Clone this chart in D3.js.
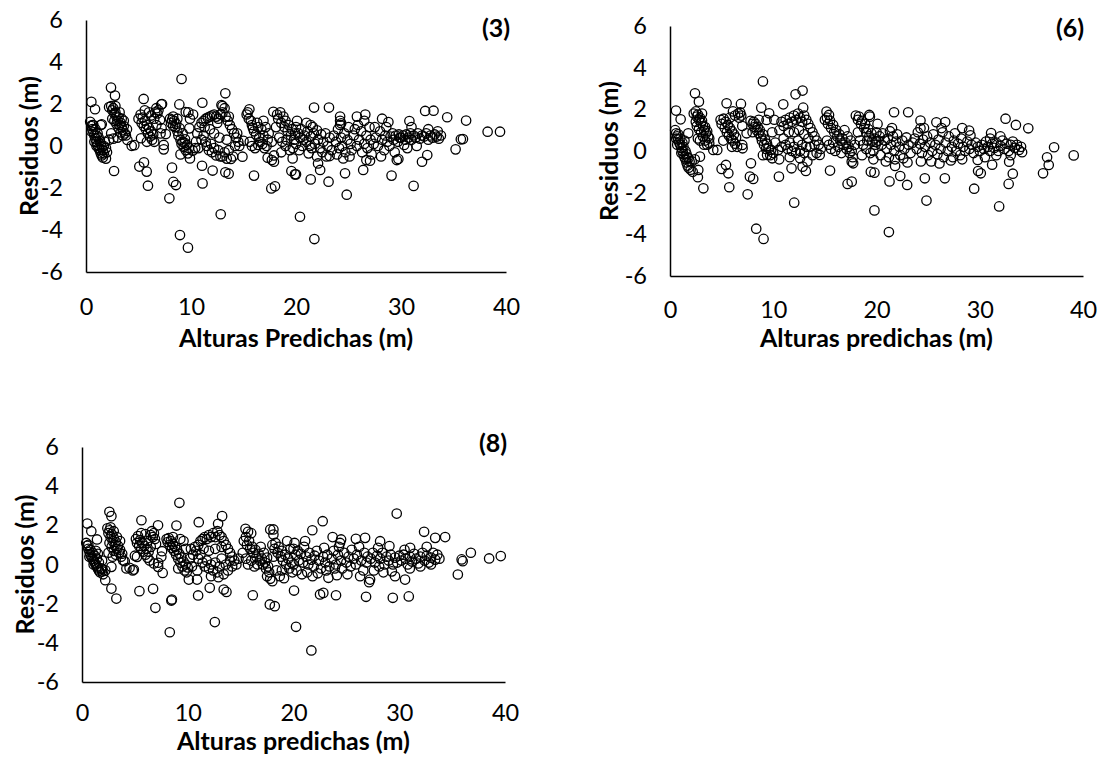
<!DOCTYPE html>
<html>
<head>
<meta charset="utf-8">
<script src="https://cdn.jsdelivr.net/npm/d3@7"></script>
<style>
  html, body { margin: 0; padding: 0; background: #fff; }
  svg text { font-family: Lato, "Open Sans", sans-serif; fill: #000; }
</style>
</head>
<body>
<svg id="chart" width="1102" height="757"></svg>
<script>
// Residuals versus predicted heights, three model fits.
const xTicks = [0, 10, 20, 30, 40];
const yTicks = [-6, -4, -2, 0, 2, 4, 6];
const panelLabels = ["(3)", "(6)", "(8)"];
const xTitles = ["Alturas Predichas (m)", "Alturas predichas (m)", "Alturas predichas (m)"];
const yTitle = "Residuos (m)";

// Model (3): [predicted height, residual]
const model3 = [
  [9.1,3.19],[8.95,-4.24],[9.71,-4.84],[12.83,-3.25],[7.94,-2.49],[2.67,-1.19],[5.08,-0.98],[5.52,-0.78],[5.78,-1.22],
  [5.9,-1.89],[8.19,-1.03],[8.32,-1.71],[8.57,-1.86],[11.1,-1.78],[11.05,-0.94],[12.06,-1.17],[13.27,-1.25],[13.59,-1.32],
  [16.0,-1.41],[17.65,-2.02],[18.0,-1.92],[19.56,-1.19],[19.9,-1.35],[2.38,2.78],[2.76,2.40],[0.51,2.10],[0.86,1.75],
  [5.49,2.24],[7.17,1.98],[8.89,1.98],[11.08,2.06],[13.27,2.51],[12.9,1.95],[15.56,1.75],
  [0.4,1.15],[0.5,0.95],[0.6,0.8],[0.7,0.65],[0.8,0.5],[0.9,0.35],[1.0,0.2],[1.1,0.05],[1.2,-0.1],[1.3,-0.2],[1.4,-0.35],
  [1.5,-0.45],[1.6,-0.55],[1.9,-0.6],[2.0,-0.3],[0.5,0.7],[0.7,1.0],[0.9,0.8],[1.1,0.6],[1.2,0.4],[1.3,0.25],[1.4,0.1],
  [1.5,-0.05],[1.6,-0.2],[1.7,-0.35],[0.8,0.2],[1.0,0.0],[1.4,1.0],[1.8,0.2],[2.2,0.3],[0.6,1.0],[1.0,0.5],[1.7,0.0],[1.9,-0.1],[1.5,1.03],
  [2.2,1.85],[2.4,1.9],[2.5,1.7],[2.6,1.8],[2.7,1.55],[2.8,1.6],[2.9,1.4],[3.0,1.2],[3.1,1.35],[3.2,1.0],[3.3,1.1],[3.4,0.9],
  [3.5,0.75],[3.6,0.95],[3.7,0.6],[3.8,0.5],[2.5,1.3],[2.7,1.2],[2.9,1.05],[3.1,0.85],[3.3,0.65],[3.5,0.5],[3.0,0.4],[2.6,0.35],
  [3.2,1.6],[2.8,1.9],[3.4,1.3],[3.6,1.2],[3.9,0.8],[3.94,0.29],[4.35,0.01],[4.6,0.04],[2.4,0.6],
  [5.0,1.3],[5.2,1.5],[5.3,1.1],[5.4,1.35],[5.5,0.95],[5.6,1.2],[5.7,0.8],[5.8,1.0],[5.9,0.6],[6.0,0.85],[6.1,0.45],[6.2,0.7],
  [6.3,0.3],[6.4,0.55],[6.5,0.2],[6.6,1.6],[6.7,1.8],[6.8,1.55],[6.9,1.7],[6.0,1.6],[6.2,1.45],[5.6,1.7],[7.05,1.24],[7.2,0.85],
  [7.4,0.05],[7.4,-0.16],[7.6,0.57],[7.1,0.6],[5.24,0.37],[6.5,1.3],[6.7,1.0],[5.8,0.2],[7.24,2.0],
  [8.0,1.3],[8.1,1.1],[8.2,1.25],[8.3,0.95],[8.4,1.2],[8.5,0.9],[8.6,1.05],[8.7,0.7],[8.8,0.5],[8.9,0.85],[9.0,0.3],[9.1,0.1],
  [9.2,0.2],[9.3,-0.05],[9.4,0.15],[9.5,-0.2],[9.6,0.05],[9.7,-0.35],[9.8,-0.1],[9.9,-0.59],[10.16,-0.22],[9.2,0.6],[9.43,0.32],
  [8.7,1.3],[9.5,1.62],[9.75,1.6],[9.84,0.84],[9.9,1.3],[10.48,0.21],[10.4,-0.1],[8.3,1.4],[9.0,-0.4],[10.2,1.5],
  [10.6,0.6],[10.8,0.9],[11.0,1.1],[11.2,1.2],[11.4,1.3],[11.6,1.35],[11.8,1.4],[12.0,1.45],[12.2,1.5],[12.4,1.4],[12.6,1.3],
  [12.8,1.5],[13.0,1.6],[13.2,1.8],[13.0,1.9],[13.3,1.4],[13.5,1.2],[13.7,1.0],[13.9,0.8],[14.1,0.6],[14.3,0.4],[14.5,0.2],
  [11.0,0.3],[11.2,0.5],[11.4,0.2],[11.5,0.0],[11.7,-0.2],[11.9,0.1],[12.0,-0.3],[12.2,-0.1],[12.4,-0.45],[12.6,-0.2],[12.8,-0.5],
  [13.0,-0.5],[13.2,-0.3],[13.4,-0.6],[13.6,-0.2],[13.8,-0.62],[14.0,-0.5],[14.2,0.0],[14.4,0.6],[13.4,0.3],[12.7,0.4],[11.8,0.8],
  [12.2,0.6],[11.3,0.9],[14.6,0.0],[14.9,-0.51],[15.0,0.25],[12.5,1.1],[13.6,1.4],[10.7,-0.1],
  [15.3,1.5],[15.5,1.3],[15.7,1.2],[15.8,1.0],[15.9,0.85],[16.0,0.7],[16.2,0.55],[16.3,1.1],[16.4,0.9],[16.5,0.4],[16.6,0.2],
  [16.8,0.1],[16.9,0.5],[17.0,-0.1],[17.2,0.0],[17.3,0.3],[17.3,-0.56],[17.7,-0.67],[17.9,-0.75],[15.6,0.2],[15.8,0.0],[16.1,-0.1],
  [16.4,0.05],[15.4,1.6],[16.7,0.8],[16.9,1.2],[17.1,0.9],[17.4,0.6],[17.7,0.2],[17.9,-0.45],
  [17.84,1.63],[18.2,1.5],[18.3,1.3],[18.5,1.6],[18.6,1.1],[18.8,1.4],[18.9,0.9],[19.0,1.2],[19.2,0.7],[19.3,1.0],[19.5,0.5],
  [19.6,0.8],[19.8,0.3],[19.9,0.6],[20.0,0.1],[18.4,0.4],[18.7,0.2],[19.0,0.0],[19.4,-0.2],[19.7,-0.1],[18.1,0.9],[19.1,0.3],
  [19.68,-0.59],[18.6,-0.3],
  [21.72,1.83],[23.14,1.83],[24.2,1.4],[24.2,1.2],[24.3,1.08],[20.0,-1.35],[21.4,-1.59],[22.1,-0.83],[22.3,-1.14],[23.1,-1.7],
  [20.38,-3.37],[21.75,-4.43],[24.67,-1.3],[24.83,-2.32],[26.4,-1.14],[29.1,-1.41],[31.2,-1.9],[32.0,-0.75],[32.5,-0.43],
  [29.6,-0.67],[29.75,-0.62],[35.2,-0.16],[35.7,0.32],[35.9,0.33],[38.25,0.68],[39.43,0.68],[36.2,1.21],[34.4,1.37],
  [32.3,1.67],[33.1,1.68],[30.8,1.19],[25.8,1.4],[26.6,1.5],[28.2,1.3],[28.8,1.14],[27.05,-0.7],[26.7,-0.67],[24.5,-0.59],
  [22.9,-0.5],[23.2,-0.48],
  [20.0,0.9],[20.2,0.6],[20.4,0.4],[20.5,0.8],[20.7,0.3],[20.8,0.5],[21.0,0.2],[21.1,0.7],[21.3,0.0],[21.4,0.45],[21.6,0.9],
  [21.7,0.6],[21.8,0.1],[22.0,0.75],[22.1,0.3],[22.3,-0.1],[22.4,0.55],[22.6,0.2],[22.8,0.6],[23.0,0.0],[23.2,0.4],[23.4,-0.2],
  [20.3,-0.2],[20.6,0.0],[21.2,-0.35],[21.5,-0.1],[22.0,-0.5],[22.5,-0.3],[20.1,1.2],[21.0,1.1],[21.4,1.0],
  [23.6,0.5],[23.8,0.2],[24.0,0.8],[24.1,-0.1],[24.3,0.4],[24.4,0.0],[24.6,0.6],[24.7,-0.3],[24.9,0.3],[25.0,0.9],[25.2,0.1],
  [25.3,-0.2],[25.5,0.5],[25.6,0.8],[25.8,0.0],[26.0,0.3],[26.2,0.7],[26.3,-0.3],[26.5,0.1],[26.7,0.5],[26.8,-0.1],[27.0,0.9],
  [27.1,0.3],[24.2,1.0],[25.9,1.0],[26.5,1.2],[27.2,-0.4],[25.1,-0.5],[23.9,-0.4],
  [27.4,0.1],[27.6,0.4],[27.8,0.0],[28.0,0.7],[28.2,0.3],[28.4,-0.2],[28.5,0.5],[28.7,0.2],[28.9,0.0],[29.0,0.45],[29.2,0.6],
  [29.3,0.3],[29.5,0.5],[29.7,0.2],[29.9,0.4],[27.5,0.9],[28.1,-0.5],[29.4,-0.3],[28.6,0.9],[29.8,0.55],
  [30.0,0.4],[30.2,0.5],[30.4,0.3],[30.5,0.55],[30.7,0.4],[30.9,0.6],[31.0,0.3],[31.2,0.5],[31.4,0.4],[31.6,0.6],[31.8,0.35],
  [32.0,0.5],[32.2,0.45],[32.4,0.6],[32.6,0.3],[32.8,0.5],[33.0,0.4],[33.2,0.55],[33.4,0.45],[33.6,0.35],[33.8,0.5],[31.0,0.9],
  [32.6,0.8],[30.6,-0.1],[31.5,0.0],[33.5,0.7],[30.3,0.05]
];

// Model (6): [predicted height, residual]
const model6 = [
  [9.0,3.34],[8.35,-3.73],[9.06,-4.22],[12.03,-2.48],[19.8,-2.85],[3.23,-1.79],[5.74,-1.74],[7.52,-2.08],[5.0,-0.86],
  [5.42,-0.67],[5.65,-1.07],[7.84,-0.59],[7.74,-1.23],[8.06,-1.34],[10.55,-1.23],[10.58,-0.4],[11.77,-0.83],[12.84,-0.75],
  [13.16,-0.96],[15.5,-0.94],[17.2,-1.58],[17.6,-1.47],[19.45,-1.0],[19.8,-1.04],[2.7,-1.26],[2.42,2.77],[2.8,2.37],
  [0.58,1.94],[1.03,1.52],[5.48,2.29],[6.87,2.26],[8.84,2.08],[10.97,2.24],[12.16,2.72],[12.84,2.9],[12.9,2.08],
  [0.5,1.0],[0.6,0.85],[0.7,0.7],[0.8,0.55],[0.9,0.4],[1.0,0.3],[1.1,0.15],[1.2,0.0],[1.3,-0.15],[1.4,-0.3],[1.5,-0.4],
  [1.6,-0.55],[1.7,-0.7],[1.8,-0.8],[1.9,-0.5],[2.0,-0.9],[2.2,-1.0],[0.6,0.6],[0.8,0.8],[1.0,0.6],[1.2,0.4],[1.3,0.2],
  [1.5,0.0],[1.6,-0.15],[1.7,-0.3],[1.4,0.5],[1.1,-0.1],[1.8,-0.35],[2.1,-0.5],[0.7,0.3],[2.4,-0.4],[2.9,-0.27],[1.77,0.85],
  [2.74,-0.91],[2.7,0.6],
  [2.3,1.8],[2.5,1.9],[2.6,1.65],[2.7,1.75],[2.8,1.5],[2.9,1.6],[3.0,1.35],[3.1,1.45],[3.2,1.2],[3.3,1.0],[3.4,1.15],[3.5,0.85],
  [3.6,0.95],[3.7,0.7],[3.8,0.6],[2.6,1.2],[2.8,1.05],[3.0,0.9],[3.2,0.7],[3.4,0.5],[3.6,0.3],[2.5,1.4],[3.1,1.8],[3.8,0.37],
  [4.19,0.05],[4.58,0.05],[3.3,0.3],[2.9,0.5],
  [4.9,1.5],[5.0,1.3],[5.2,1.55],[5.3,1.1],[5.4,1.4],[5.5,0.9],[5.6,1.25],[5.7,0.75],[5.8,1.1],[5.9,0.6],[6.0,0.95],[6.1,0.5],
  [6.2,0.8],[6.3,0.35],[6.4,0.65],[6.5,0.2],[6.6,1.8],[6.7,1.6],[6.8,1.85],[6.9,1.7],[6.1,1.9],[6.3,1.7],[5.8,1.6],[7.0,1.2],
  [7.0,0.29],[7.03,0.13],[7.42,0.85],[5.16,0.5],[6.0,0.2],
  [7.8,1.45],[8.0,1.3],[8.1,1.4],[8.2,1.15],[8.3,1.3],[8.4,1.0],[8.5,1.15],[8.6,0.85],[8.7,1.0],[8.8,0.7],[8.9,0.5],[9.0,0.8],
  [9.1,0.3],[9.2,0.55],[9.3,0.1],[9.4,0.35],[9.4,-0.19],[9.55,0.13],[9.7,-0.2],[9.8,0.05],[9.9,-0.35],[10.0,-0.1],[9.35,1.49],
  [9.6,1.81],[9.9,0.9],[10.2,0.4],[10.48,0.05],[8.6,1.5],[9.0,-0.2],[10.1,1.5],[8.0,0.9],
  [10.6,1.0],[10.8,1.4],[11.0,1.2],[11.2,1.5],[11.4,1.3],[11.6,1.6],[11.8,1.4],[12.0,1.7],[12.2,1.5],[12.4,1.8],[12.6,1.6],
  [12.8,1.4],[13.0,1.7],[13.2,1.5],[13.4,1.3],[13.6,1.1],[13.8,0.9],[14.0,0.7],[14.2,0.5],[14.4,0.3],[11.0,0.6],[11.2,0.3],
  [11.4,0.1],[11.6,0.4],[11.8,0.0],[12.0,0.2],[12.2,-0.1],[12.4,0.5],[12.6,0.0],[12.8,0.3],[13.0,-0.1],[13.2,0.2],[13.4,0.6],
  [13.55,0.2],[13.8,-0.2],[14.0,0.3],[14.2,-0.1],[14.5,-0.19],[12.0,0.9],[12.5,1.0],[13.0,0.8],[11.5,0.9],[10.8,0.2],[14.6,0.1],
  [13.3,-0.5],[12.6,-0.35],[11.6,-0.3],
  [15.16,1.89],[15.4,1.73],[15.0,1.5],[15.2,1.6],[15.3,1.3],[15.5,1.45],[15.6,1.1],[15.8,1.25],[15.9,0.9],[16.1,1.0],[16.2,0.7],
  [16.4,0.8],[16.5,0.5],[16.7,0.6],[16.8,0.3],[17.0,0.4],[17.1,0.1],[17.3,0.2],[17.4,-0.1],[17.6,0.0],[17.7,-0.3],[15.4,0.3],
  [15.6,0.1],[15.8,0.4],[16.0,0.0],[16.3,0.2],[16.6,-0.1],[15.2,0.5],[16.9,1.0],[17.2,0.7],[17.5,0.5],[17.6,-0.51],[17.74,-0.59],
  [17.9,0.3],
  [18.0,1.7],[18.2,1.5],[18.3,1.65],[18.5,1.3],[18.6,1.45],[18.8,1.1],[18.9,1.3],[19.0,0.9],[19.2,1.05],[19.3,0.7],[19.5,0.85],
  [19.6,0.5],[19.8,0.6],[19.9,0.3],[20.0,0.45],[18.4,0.5],[18.7,0.3],[19.0,0.1],[19.4,-0.1],[19.7,0.0],[18.2,0.9],[19.1,0.5],
  [18.6,-0.2],[19.3,1.73],[19.36,1.65],
  [21.2,-3.89],[24.84,-2.38],[31.88,-2.66],[29.46,-1.81],[21.26,-1.46],[22.97,-1.63],[24.68,-1.31],[26.62,-1.31],[29.84,-0.96],
  [30.1,-1.07],[32.8,-1.58],[33.2,-1.09],[36.13,-1.07],[36.68,-0.67],[36.52,-0.3],[37.2,0.18],[39.1,-0.21],[21.7,1.86],
  [23.07,1.86],[25.8,1.38],[26.65,1.39],[28.3,1.1],[28.97,0.98],[31.1,0.86],[32.5,1.55],[33.5,1.25],[34.7,1.09],[24.26,1.46],
  [24.26,1.09],[22.3,-1.2],[21.8,-0.72],[31.2,-0.66],[29.8,-0.43],[32.85,-0.51],[34.1,-0.06],
  [20.0,0.9],[20.2,0.5],[20.3,0.7],[20.5,0.3],[20.6,0.85],[20.8,0.5],[21.0,0.1],[21.1,0.6],[21.3,0.95],[21.4,0.3],[21.6,0.7],
  [21.7,0.0],[21.9,0.45],[22.0,0.8],[22.2,0.2],[22.3,-0.2],[22.5,0.5],[22.7,0.1],[22.9,0.65],[23.1,0.3],[23.3,-0.1],[23.5,0.4],
  [20.4,-0.2],[20.9,-0.5],[21.2,-0.3],[21.8,-0.4],[22.6,-0.35],[23.0,-0.55],[20.1,1.3],[21.5,1.1],[19.7,-0.4],
  [23.7,0.6],[23.9,0.1],[24.0,0.9],[24.2,0.35],[24.4,-0.1],[24.5,0.55],[24.7,0.2],[24.9,0.7],[25.0,-0.2],[25.2,0.4],[25.4,0.0],
  [25.5,0.8],[25.7,0.3],[25.9,-0.15],[26.0,0.55],[26.2,0.1],[26.4,0.9],[26.5,-0.3],[26.7,0.4],[26.9,0.0],[27.0,0.7],[24.3,-0.5],
  [25.3,-0.5],[26.1,-0.6],[27.2,-0.45],[24.6,1.1],[26.3,1.1],
  [27.3,0.2],[27.5,0.5],[27.7,0.0],[27.9,0.35],[28.1,-0.2],[28.2,0.6],[28.4,0.2],[28.6,0.0],[28.8,0.45],[29.0,0.1],[29.2,0.3],
  [29.4,-0.1],[29.6,0.4],[29.8,0.2],[30.0,0.0],[27.6,0.85],[28.3,-0.4],[29.1,0.75],[27.4,-0.3],
  [30.2,0.3],[30.4,0.1],[30.6,0.45],[30.8,0.2],[31.0,0.0],[31.2,0.35],[31.4,0.15],[31.6,0.4],[31.8,0.0],[32.0,0.25],[32.2,0.5],
  [32.4,0.1],[32.6,0.35],[32.8,0.0],[33.0,0.3],[33.2,0.45],[33.4,0.15],[33.6,0.3],[33.8,0.05],[34.0,0.2],[31.0,0.6],[32.0,0.7],
  [30.5,-0.3],[33.0,-0.2],[31.6,-0.2]
];

// Model (8): [predicted height, residual]
const model8 = [
  [9.21,3.15],[8.3,-3.46],[12.56,-2.94],[3.25,-1.74],[2.78,-1.23],[2.2,-0.8],[5.43,-1.36],[6.72,-1.24],[6.94,-2.21],
  [8.45,-1.84],[8.5,-1.79],[7.63,-0.43],[10.98,-1.58],[12.08,-1.19],[13.4,-1.28],[13.66,-1.4],[16.15,-1.57],[17.76,-2.04],
  [18.23,-2.13],[10.1,-0.77],[10.88,-0.77],[2.59,2.69],[2.78,2.47],[0.5,2.09],[0.88,1.7],[5.62,2.26],[7.19,2.0],[8.93,1.99],
  [11.04,2.16],[13.25,2.47],[12.87,2.08],[15.46,1.82],[15.7,1.67],[18.1,1.79],
  [0.4,1.1],[0.5,0.95],[0.6,0.8],[0.7,0.65],[0.8,0.5],[0.9,0.4],[1.0,0.3],[1.1,0.2],[1.2,0.1],[1.3,0.0],[1.4,-0.1],[1.5,-0.2],
  [1.6,-0.3],[1.7,-0.4],[1.8,-0.2],[1.9,-0.35],[0.6,1.0],[0.8,0.75],[1.0,0.6],[1.2,0.45],[1.4,0.3],[1.6,0.1],[1.3,0.7],
  [1.5,0.55],[0.7,0.4],[1.1,0.0],[2.0,-0.5],[2.2,-0.3],[1.9,0.2],[1.42,1.28],[2.78,-0.12],[1.9,-0.22],
  [2.4,1.85],[2.5,1.6],[2.6,1.75],[2.7,1.4],[2.8,1.55],[2.9,1.2],[3.0,1.35],[3.1,1.0],[3.2,1.15],[3.3,0.8],[3.4,0.95],[3.5,0.6],
  [3.6,0.75],[3.7,0.4],[3.8,0.55],[3.9,0.2],[2.6,1.1],[2.8,0.9],[3.0,0.7],[3.2,0.5],[2.7,1.9],[3.0,1.7],[3.3,1.4],[2.9,0.4],
  [4.04,0.17],[4.2,-0.2],[4.5,-0.17],[4.8,-0.3],[4.9,-0.26],[3.6,1.2],[2.5,0.6],
  [5.1,1.3],[5.2,1.1],[5.3,1.45],[5.4,0.95],[5.5,1.25],[5.6,0.8],[5.7,1.1],[5.8,0.65],[5.9,0.95],[6.0,0.5],[6.1,0.8],[6.2,0.35],
  [6.3,0.65],[6.4,0.2],[6.5,1.5],[6.6,1.7],[6.7,1.4],[6.8,1.6],[6.9,1.3],[5.6,1.6],[6.0,1.55],[6.2,1.2],[7.0,1.05],[7.2,0.09],
  [7.2,-0.12],[7.57,0.68],[5.2,0.39],[6.5,0.9],[6.8,0.05],[7.5,0.4],[5.0,0.45],
  [8.0,1.3],[8.1,1.15],[8.2,1.35],[8.3,1.0],[8.4,1.2],[8.5,0.85],[8.6,1.05],[8.7,0.7],[8.8,0.9],[8.9,0.5],[9.0,0.75],[9.1,0.3],
  [9.2,0.55],[9.3,0.1],[9.4,0.35],[9.5,-0.1],[9.6,0.15],[9.7,-0.3],[9.8,0.0],[9.9,-0.4],[10.0,-0.15],[9.3,1.3],[9.6,1.2],
  [9.8,0.8],[10.2,0.3],[10.4,-0.1],[8.6,1.4],[9.1,-0.2],[10.3,0.8],[10.5,0.5],[10.7,0.9],
  [10.8,0.7],[11.0,1.0],[11.2,1.2],[11.4,1.3],[11.6,1.4],[11.8,1.3],[12.0,1.5],[12.2,1.4],[12.4,1.6],[12.6,1.4],[12.8,1.7],
  [13.0,1.5],[13.2,1.4],[13.4,1.2],[13.6,1.0],[13.8,0.8],[14.0,0.6],[14.2,0.4],[14.4,0.2],[11.0,0.3],[11.2,0.5],[11.4,0.1],
  [11.6,-0.1],[11.8,0.2],[12.0,-0.2],[12.2,0.0],[12.4,-0.3],[12.6,0.1],[12.8,-0.4],[13.0,-0.1],[13.2,0.3],[13.4,-0.5],[13.6,0.0],
  [13.8,-0.3],[14.0,0.2],[14.2,-0.1],[12.0,0.7],[12.6,0.8],[13.2,0.9],[11.5,0.8],[14.6,0.0],[14.8,0.3],[10.9,-0.3],[12.2,-0.6],
  [12.9,-0.65],
  [15.3,1.2],[15.5,1.4],[15.6,1.0],[15.8,1.2],[15.9,0.8],[16.1,0.9],[16.2,0.6],[16.4,0.75],[16.5,0.4],[16.7,0.55],[16.8,0.2],
  [17.0,0.3],[17.1,0.0],[17.3,0.1],[17.4,-0.2],[17.6,-0.1],[17.7,-0.4],[15.5,0.3],[15.7,0.0],[16.0,0.2],[16.3,-0.1],[16.6,0.0],
  [16.9,0.9],[17.2,0.6],[17.5,0.35],[17.5,-0.6],[17.8,-0.73],[18.0,-0.85],[15.2,0.6],[16.0,1.6],
  [17.8,1.79],[18.1,1.53],[18.0,1.0],[18.2,0.8],[18.3,1.1],[18.5,0.6],[18.6,0.9],[18.8,0.4],[18.9,0.7],[19.0,0.2],[19.2,0.5],
  [19.3,0.0],[19.5,0.3],[19.6,-0.2],[19.8,0.1],[19.9,-0.4],[20.0,0.0],[18.4,-0.3],[18.7,-0.6],[19.1,-0.7],[19.4,1.2],[18.1,0.4],
  [19.7,0.8],[18.9,-0.3],
  [20.24,-3.18],[21.69,-4.39],[29.76,2.6],[22.76,2.21],[21.78,1.75],[20.05,-1.33],[22.51,-1.53],[22.82,-1.45],[24.02,-1.57],
  [26.86,-1.65],[29.39,-1.7],[30.9,-1.63],[23.3,-0.68],[27.15,-0.9],[27.24,-0.77],[29.6,-0.6],[30.55,-0.77],[35.54,-0.51],
  [35.9,0.26],[36.0,0.17],[36.77,0.6],[38.5,0.31],[39.6,0.43],[32.35,1.67],[33.4,1.36],[34.34,1.4],[23.7,1.4],[24.5,1.28],
  [25.9,1.31],[26.77,1.36],[28.19,1.19],[29.07,0.94],[31.03,0.85],
  [20.0,0.8],[20.2,0.5],[20.4,0.7],[20.5,0.2],[20.7,0.55],[20.9,0.1],[21.0,0.9],[21.2,0.4],[21.4,0.0],[21.5,0.6],[21.7,0.25],
  [21.9,-0.1],[22.0,0.45],[22.2,0.7],[22.4,0.2],[22.6,-0.2],[22.8,0.4],[23.0,0.1],[23.2,0.5],[23.4,-0.1],[20.3,-0.3],[20.8,-0.5],
  [21.3,-0.4],[21.8,-0.6],[22.3,-0.45],[23.1,-0.3],[20.1,1.1],[21.1,1.2],[22.9,0.85],
  [23.6,0.3],[23.8,0.7],[24.0,0.0],[24.2,0.5],[24.3,0.9],[24.5,0.2],[24.6,-0.2],[24.8,0.6],[25.0,0.1],[25.2,0.4],[25.4,-0.1],
  [25.5,0.75],[25.7,0.3],[25.9,0.0],[26.0,0.5],[26.2,0.9],[26.4,0.2],[26.6,-0.3],[26.7,0.6],[26.9,0.1],[27.0,0.4],[24.1,-0.55],
  [25.1,-0.5],[26.3,-0.6],[24.4,1.1],[23.9,-0.2],
  [27.3,0.3],[27.5,0.6],[27.7,0.1],[27.9,0.45],[28.1,-0.1],[28.2,0.3],[28.4,0.6],[28.6,0.0],[28.8,0.4],[29.0,0.2],[29.2,0.5],
  [29.4,0.0],[29.6,0.35],[29.8,0.1],[30.0,0.45],[27.6,-0.3],[28.5,-0.4],[29.3,-0.35],[28.0,0.85],
  [30.2,0.2],[30.4,0.5],[30.6,0.3],[30.8,0.0],[31.0,0.4],[31.2,0.15],[31.4,0.55],[31.6,0.3],[31.8,0.05],[32.0,0.4],[32.2,0.6],
  [32.4,0.2],[32.6,0.45],[32.8,0.1],[33.0,0.35],[33.2,0.6],[33.4,0.25],[33.6,0.5],[33.8,0.3],[31.0,-0.2],[32.0,-0.1],[33.0,0.0],
  [30.5,0.75],[32.6,0.9]
];

// Frame of each panel on the page
const layout = [
  { data: model3, left: 86,  right: 506,  top: 20,  bottom: 272, tickGap: 26, xTitleY: 337, yTitleX: 28,  tagX: 496,  tagY: 27 },
  { data: model6, left: 670, right: 1083, top: 26,  bottom: 276, tickGap: 25, xTitleY: 337, yTitleX: 608, tagX: 1070, tagY: 27 },
  { data: model8, left: 82,  right: 505,  top: 447, bottom: 682, tickGap: 22, xTitleY: 740, yTitleX: 24,  tagX: 493,  tagY: 442 }
];

const tickFont = 23.5;
const titleFont = 25;

const svg = d3.select("#chart");

layout.forEach((p, i) => {
  const x = d3.scaleLinear().domain([0, 40]).range([p.left, p.right]);
  const y = d3.scaleLinear().domain([-6, 6]).range([p.bottom, p.top]);
  const g = svg.append("g");

  const yAxis = g.append("g")
    .attr("transform", `translate(${p.left},0)`)
    .call(d3.axisLeft(y).tickValues(yTicks).tickSize(0).tickPadding(23).tickFormat(d3.format("d")));
  const xAxis = g.append("g")
    .attr("transform", `translate(0,${p.bottom})`)
    .call(d3.axisBottom(x).tickValues(xTicks).tickSize(0).tickPadding(p.tickGap).tickFormat(d3.format("d")));

  [yAxis, xAxis].forEach(a => {
    a.select(".domain").attr("stroke", "#000").attr("stroke-width", 1.5);
    a.selectAll("text").attr("font-size", tickFont).attr("fill", "#000");
  });
  yAxis.selectAll("text").text(d => d < 0 ? "-" + Math.abs(d) : d);

  g.append("g").selectAll("circle")
    .data(p.data)
    .join("circle")
    .attr("cx", d => x(d[0]))
    .attr("cy", d => y(d[1]))
    .attr("r", 4.7)
    .attr("fill", "none")
    .attr("stroke", "#000")
    .attr("stroke-width", 1.3);

  g.append("text")
    .attr("x", (p.left + p.right) / 2)
    .attr("y", p.xTitleY)
    .attr("text-anchor", "middle")
    .attr("dominant-baseline", "central")
    .attr("font-size", titleFont)
    .attr("font-weight", "bold")
    .text(xTitles[i]);

  g.append("text")
    .attr("transform", `translate(${p.yTitleX},${(p.top + p.bottom) / 2}) rotate(-90)`)
    .attr("text-anchor", "middle")
    .attr("dominant-baseline", "central")
    .attr("font-size", titleFont)
    .attr("font-weight", "bold")
    .text(yTitle);

  g.append("text")
    .attr("x", p.tagX)
    .attr("y", p.tagY)
    .attr("text-anchor", "middle")
    .attr("dominant-baseline", "central")
    .attr("font-size", titleFont)
    .attr("font-weight", "bold")
    .text(panelLabels[i]);
});
</script>
</body>
</html>
